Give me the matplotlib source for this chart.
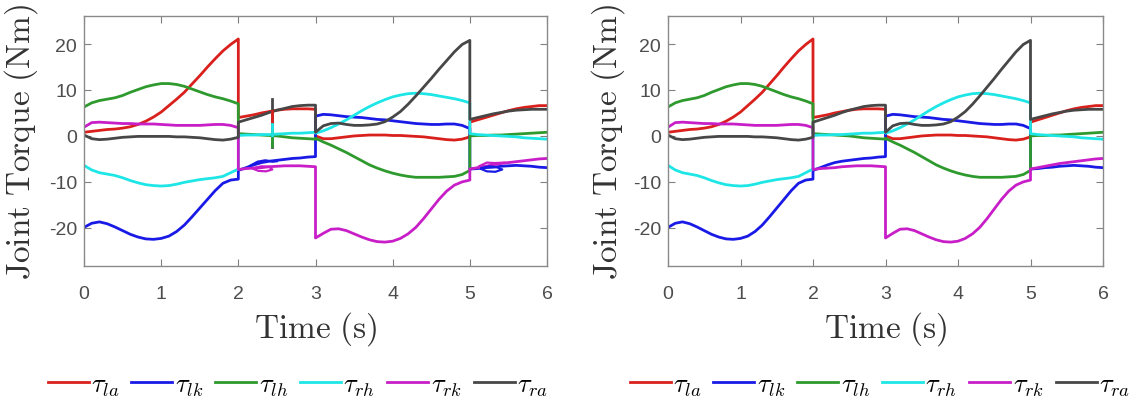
import matplotlib
matplotlib.use("Agg")
import matplotlib.pyplot as plt
import numpy as np

plt.rcParams['mathtext.fontset'] = 'cm'
plt.rcParams['font.family'] = ['Liberation Sans', 'DejaVu Sans']
plt.rcParams['axes.unicode_minus'] = False

# time grid (duplicated times at the switching instants 2, 3, 5 s)
t_a = [0.0, 0.1, 0.2, 0.3, 0.4, 0.5, 0.6, 0.7, 0.8, 0.9, 1.0, 1.1, 1.2, 1.3, 1.4, 1.5, 1.6, 1.7, 1.8, 1.9, 2.0]
t_b = [2.0, 2.1, 2.2, 2.3, 2.4, 2.5, 2.6, 2.7, 2.8, 2.9, 3.0]
t_c = [3.0, 3.1, 3.2, 3.3, 3.4, 3.5, 3.6, 3.7, 3.8, 3.9, 4.0, 4.1, 4.2, 4.3, 4.4, 4.5, 4.6, 4.7, 4.8, 4.9, 5.0]
t_d = [5.0, 5.1, 5.2, 5.3, 5.4, 5.5, 5.6, 5.7, 5.8, 5.9, 6.0]
time = t_a + t_b + t_c + t_d

tau_la = ([0.8, 1.0, 1.2, 1.4, 1.5, 1.7, 2.0, 2.5, 3.2, 4.1, 5.2, 6.6, 8.0, 9.5, 11.3, 13.1, 15.0, 16.8, 18.5, 19.9, 21.1]
          + [4.0, 4.3, 4.6, 5.0, 5.3, 5.6, 5.8, 5.9, 5.9, 5.9, 5.8]
          + [0.0, -0.6, -0.6, -0.4, -0.2, 0.0, 0.1, 0.2, 0.2, 0.2, 0.1, 0.1, 0.0, -0.1, -0.2, -0.4, -0.6, -0.8, -0.9, -0.7, -0.2]
          + [3.0, 3.5, 4.0, 4.5, 5.0, 5.5, 5.9, 6.2, 6.4, 6.6, 6.6])
tau_lk = ([-19.9, -19.0, -18.7, -19.1, -19.8, -20.6, -21.4, -22.0, -22.4, -22.5, -22.3, -21.8, -20.8, -19.4, -17.6, -15.7, -13.8, -11.9, -10.3, -9.6, -9.4]
          + [-7.5, -6.9, -6.3, -5.8, -5.5, -5.3, -5.1, -4.9, -4.8, -4.6, -4.5]
          + [4.3, 4.7, 4.6, 4.4, 4.2, 4.1, 4.0, 3.8, 3.6, 3.5, 3.3, 3.1, 2.9, 2.7, 2.6, 2.5, 2.5, 2.6, 2.6, 2.3, 1.6]
          + [-7.2, -7.1, -6.9, -6.8, -6.6, -6.5, -6.4, -6.5, -6.6, -6.8, -6.9])
tau_lh = ([6.3, 7.2, 7.7, 8.0, 8.3, 8.8, 9.5, 10.1, 10.7, 11.1, 11.4, 11.4, 11.2, 10.8, 10.2, 9.6, 9.0, 8.5, 8.1, 7.6, 7.0]
          + [0.5, 0.4, 0.3, 0.2, 0.1, 0.0, -0.2, -0.4, -0.5, -0.6, -0.7]
          + [-0.5, -1.3, -2.0, -2.8, -3.6, -4.5, -5.4, -6.3, -7.0, -7.6, -8.1, -8.5, -8.8, -9.0, -9.0, -9.0, -9.0, -8.9, -8.8, -8.4, -7.5]
          + [0.0, 0.1, 0.1, 0.2, 0.2, 0.3, 0.4, 0.5, 0.6, 0.7, 0.8])
tau_rh = ([-6.4, -7.4, -8.0, -8.3, -8.6, -9.1, -9.7, -10.2, -10.6, -10.8, -10.9, -10.8, -10.5, -10.1, -9.8, -9.5, -9.3, -9.1, -8.8, -8.0, -7.2]
          + [0.1, 0.2, 0.2, 0.3, 0.3, 0.4, 0.5, 0.6, 0.6, 0.7, 0.8]
          + [0.6, 1.1, 1.8, 2.6, 3.5, 4.5, 5.5, 6.4, 7.2, 7.9, 8.5, 8.9, 9.2, 9.3, 9.2, 9.0, 8.7, 8.4, 8.1, 7.7, 7.2]
          + [0.5, 0.3, 0.2, 0.1, 0.0, -0.1, -0.2, -0.4, -0.5, -0.6, -0.7])
tau_rk = ([1.9, 2.9, 3.0, 2.9, 2.8, 2.7, 2.7, 2.6, 2.6, 2.6, 2.5, 2.4, 2.3, 2.3, 2.3, 2.3, 2.4, 2.5, 2.5, 2.3, 1.8]
          + [-7.3, -7.1, -7.0, -6.9, -6.7, -6.6, -6.5, -6.5, -6.5, -6.6, -6.7]
          + [-22.2, -21.2, -20.3, -20.2, -20.6, -21.3, -22.0, -22.6, -23.0, -23.1, -22.9, -22.3, -21.3, -19.9, -18.0, -15.9, -13.8, -12.0, -10.7, -10.0, -9.6]
          + [-7.2, -6.9, -6.6, -6.3, -6.0, -5.8, -5.6, -5.4, -5.2, -5.0, -4.9])
tau_ra = ([0.2, -0.6, -0.8, -0.7, -0.5, -0.3, -0.2, -0.1, -0.1, -0.1, -0.1, -0.1, -0.2, -0.2, -0.3, -0.4, -0.6, -0.8, -0.9, -0.7, -0.3]
          + [3.0, 3.5, 4.0, 4.5, 5.1, 5.6, 6.0, 6.4, 6.6, 6.7, 6.7]
          + [0.8, 2.2, 2.7, 2.8, 2.5, 2.3, 2.3, 2.4, 2.6, 3.1, 4.1, 5.3, 6.9, 8.7, 10.6, 12.5, 14.5, 16.4, 18.3, 19.9, 20.8]
          + [3.6, 4.0, 4.4, 4.8, 5.1, 5.4, 5.6, 5.7, 5.8, 5.8, 5.8])

# artefacts seen only in the left panel
glitch_t = 2.43
glitch_ra = [8.0, -2.3]
glitch_la = [5.5, 2.6]
glitch_rh = [2.6, -0.5]
glitch_lh = [-0.5, -2.2]
loop_rk1_t = [2.20, 2.30, 2.40, 2.44, 2.36, 2.26, 2.20]
loop_rk1_v = [-7.0, -6.6, -6.7, -7.3, -7.7, -7.6, -7.2]
bump_lk1_t = [2.15, 2.25, 2.35, 2.45, 2.50]
bump_lk1_v = [-6.5, -5.6, -5.3, -5.6, -5.5]
loop_lk2_t = [5.15, 5.25, 5.35, 5.42, 5.33, 5.22, 5.15]
loop_lk2_v = [-7.0, -6.6, -6.8, -7.3, -7.8, -7.7, -7.2]
bump_rk2_t = [5.12, 5.22, 5.32, 5.45]
bump_rk2_v = [-6.6, -5.8, -5.9, -5.8]

series = [tau_la, tau_lk, tau_lh, tau_rh, tau_rk, tau_ra]
labels = [r'$\tau_{la}$', r'$\tau_{lk}$', r'$\tau_{lh}$', r'$\tau_{rh}$', r'$\tau_{rk}$', r'$\tau_{ra}$']
colors = ['#d9201c', '#1a1ae6', '#2e9a2e', '#1ee6e6', '#c81ec8', '#474747']

xticks = [0, 1, 2, 3, 4, 5, 6]
yticks = [-20, -10, 0, 10, 20]

fig = plt.figure(figsize=(11.44, 4.02), dpi=100)
W, H = 1144, 402
axes_px = [(84, 17, 463, 250), (668, 17, 435, 250)]
ylabel_cx = [21, 608]
legend_cx = [298, 880]
LW = 2.0

for i, (x0, y0, w, h) in enumerate(axes_px):
    ax = fig.add_axes([x0 / W, (H - y0 - h) / H, w / W, h / H])
    lines = []
    for s, lab, c in zip(series, labels, colors):
        ln, = ax.plot(time, s, color=c, lw=LW, label=lab)
        lines.append(ln)
    if i == 0:
        ax.plot(loop_rk1_t, loop_rk1_v, color=colors[4], lw=1.6)
        ax.plot(bump_lk1_t, bump_lk1_v, color=colors[1], lw=1.6)
        ax.plot(loop_lk2_t, loop_lk2_v, color=colors[1], lw=1.6)
        ax.plot(bump_rk2_t, bump_rk2_v, color=colors[4], lw=1.6)
        ax.plot([glitch_t, glitch_t], glitch_ra, color=colors[5], lw=LW)
        ax.plot([glitch_t, glitch_t], glitch_la, color=colors[0], lw=LW)
        ax.plot([glitch_t, glitch_t], glitch_rh, color=colors[3], lw=LW)
        ax.plot([glitch_t, glitch_t], glitch_lh, color=colors[2], lw=LW)
    ax.set_xlim(0, 6)
    ax.set_ylim(-28.3, 26.1)
    ax.set_xticks(xticks)
    ax.set_yticks(yticks)
    ax.tick_params(direction='in', length=5, width=0.8, color='#808080',
                   labelcolor='#4d4d4d', labelsize=14, top=True, right=True)
    ax.tick_params(axis='x', pad=14)
    ax.tick_params(axis='y', pad=5)
    for sp in ax.spines.values():
        sp.set_color('#8a8a8a')
        sp.set_linewidth(1.0)
    ax.set_xlabel(r'$\mathrm{Time\ (s)}$', fontsize=24, labelpad=5, color='#333333')
    ax.set_ylabel(r'$\mathrm{Joint\ Torque\ (Nm)}$', fontsize=24, color='#333333')
    ax.yaxis.set_label_coords((ylabel_cx[i] - x0) / w, 0.5)
    ax.yaxis.label.set_va('center')
    fig.legend(lines, labels, loc='center', bbox_to_anchor=(legend_cx[i] / W, (H - 386) / H),
               ncol=6, frameon=False, fontsize=19, handlelength=1.55, handletextpad=0.1,
               columnspacing=0.45)

fig.savefig('out.png', dpi=100)
